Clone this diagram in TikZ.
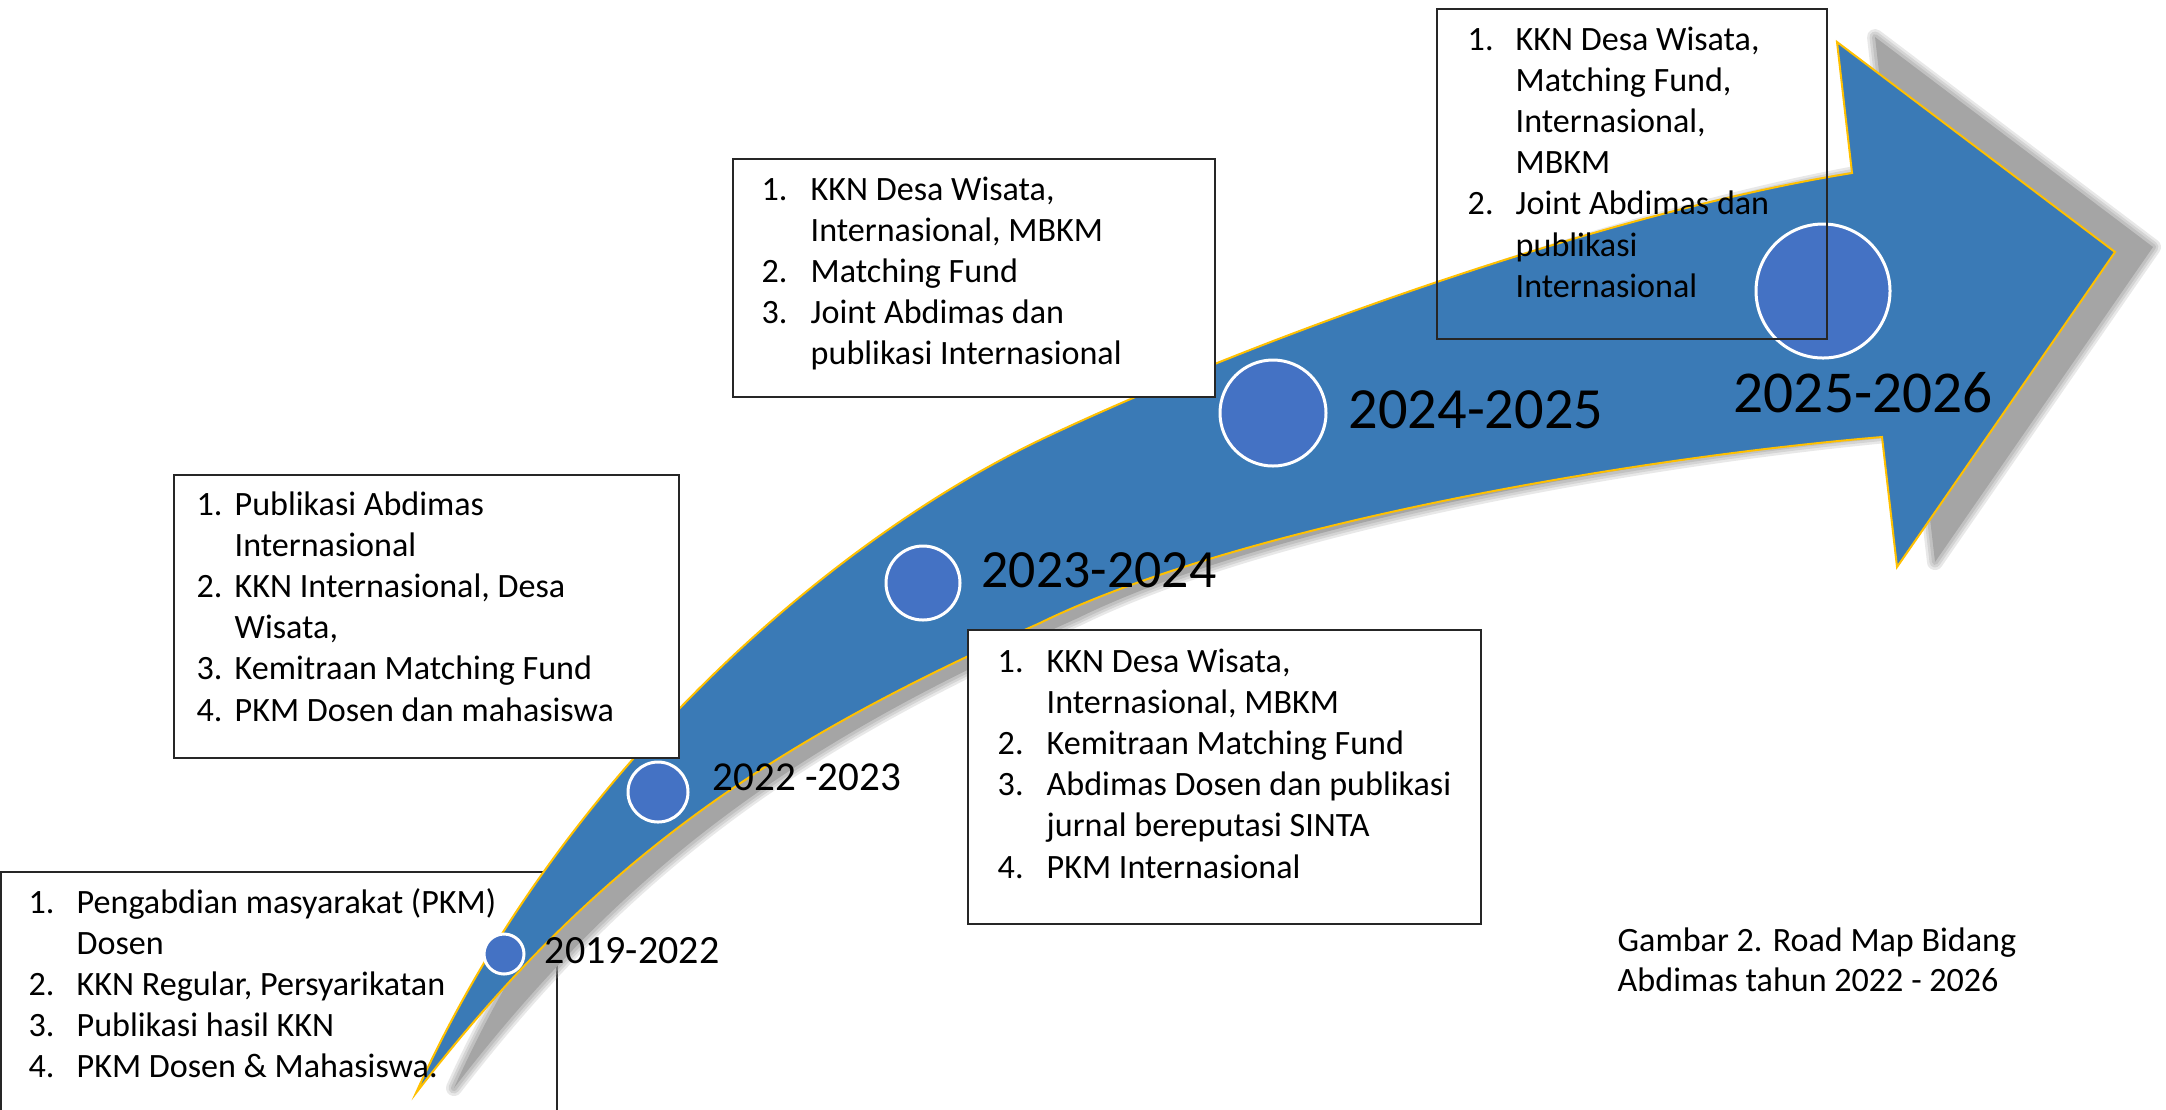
\documentclass[tikz,border=0pt]{standalone}
\usepackage{fontspec}
\setmainfont{Carlito}
\usepackage{tikz}

\definecolor{arrowblue}{RGB}{58,122,182}
\definecolor{dotblue}{RGB}{68,114,196}
\definecolor{edgegold}{RGB}{255,192,0}
\definecolor{shadowgray}{RGB}{165,165,165}

% list lines: number column + text, and a continued line
\newcommand{\itm}[3][4.9mm]{\makebox[#1][l]{#2}#3}
\newcommand{\cont}[2][4.9mm]{\hspace*{#1}#2}

% outline of the curved arrow (units are pixels of the layout)
\def\arrowpath{(416,1093) .. controls (557,780) and (822,545) .. (1040,440)
  .. controls (1250,340) and (1602,213) .. (1852,173)
  -- (1837,42) -- (2115,252) -- (1897,567) -- (1882,437)
  .. controls (1632,458) and (1240,525) .. (1040,623)
  .. controls (790,735) and (606,846) .. (416,1093) -- cycle}

\tikzset{
  listbox/.style={draw=black!85, line width=0.15mm},
  listtext/.style={font=\fontsize{9.7}{11.7}\selectfont, align=left, inner sep=0pt, anchor=north west},
  yearlbl/.style={inner sep=0pt, anchor=base west},
  dot/.style={circle, fill=dotblue, draw=white, line width=0.3mm, inner sep=0pt},
}

\begin{document}
\begin{tikzpicture}[x=0.1mm, y=-0.1mm]
\useasboundingbox (0,0) rectangle (2166,1109);

% box under the tail
\draw[listbox, fill=white] (1,872) rectangle (557,1125);

% shadow
\begin{scope}[shift={(38,-5)}]
  \foreach \lw/\op in {1.6mm/0.25, 1.1mm/0.3, 0.6mm/0.4}
    \draw[shadowgray, opacity=\op, line width=\lw, line join=round] \arrowpath;
  \fill[shadowgray] \arrowpath;
\end{scope}

% arrow
\filldraw[fill=arrowblue, draw=edgegold, line width=0.2mm, line join=miter] \arrowpath;

% milestones
\node[dot, minimum size=4mm]    (c19) at (504,954) {};
\node[dot, minimum size=6mm]    (c22) at (658,792) {};
\node[dot, minimum size=7.4mm]  (c23) at (923,583) {};
\node[dot, minimum size=10.6mm] (c24) at (1273,413) {};
\node[dot, minimum size=13.4mm] (c25) at (1823,291) {};

\node[yearlbl, font=\fontsize{11.4}{13}\selectfont] (y19) at (544,963) {2019-2022};
\node[yearlbl, font=\fontsize{11.7}{14}\selectfont] (y22) at (712,790) {2022 -2023};
\node[yearlbl, font=\fontsize{15.3}{18}\selectfont] (y23) at (981,587) {2023-2024};
\node[yearlbl, font=\fontsize{16.6}{20}\selectfont] (y24) at (1348,428) {2024-2025};
\node[yearlbl, font=\fontsize{16.9}{20}\selectfont] (y25) at (1733,412) {2025-2026};

% boxes
\draw[listbox, fill=white] (174,475) rectangle (679,758);
\draw[listbox, fill=white] (733,159) rectangle (1215,397);
\draw[listbox, fill=white] (968,630) rectangle (1481,924);
\draw[listbox] (1437,9) rectangle (1827,339);

\node[listtext] (t19) at (28,884) {\strut\itm[4.8mm]{1.}{Pengabdian masyarakat (PKM)}\\
  \cont[4.8mm]{Dosen}\\
  \itm[4.8mm]{2.}{KKN Regular, Persyarikatan}\\
  \itm[4.8mm]{3.}{Publikasi hasil KKN}\\
  \itm[4.8mm]{4.}{PKM Dosen \& Mahasiswa.}};

\node[listtext] (t22) at (196,486) {\strut\itm[3.8mm]{1.}{Publikasi Abdimas}\\
  \cont[3.8mm]{Internasional}\\
  \itm[3.8mm]{2.}{KKN Internasional, Desa}\\
  \cont[3.8mm]{Wisata,}\\
  \itm[3.8mm]{3.}{Kemitraan Matching Fund}\\
  \itm[3.8mm]{4.}{PKM Dosen dan mahasiswa}};

\node[listtext] (t23) at (761,171) {\strut\itm{1.}{KKN Desa Wisata,}\\
  \cont{Internasional, MBKM}\\
  \itm{2.}{Matching Fund}\\
  \itm{3.}{Joint Abdimas dan}\\
  \cont{publikasi Internasional}};

\node[listtext] (t24) at (997,643) {\strut\itm{1.}{KKN Desa Wisata,}\\
  \cont{Internasional, MBKM}\\
  \itm{2.}{Kemitraan Matching Fund}\\
  \itm{3.}{Abdimas Dosen dan publikasi}\\
  \cont{jurnal bereputasi SINTA}\\
  \itm{4.}{PKM Internasional}};

\node[listtext] (t25) at (1467,21) {\strut\itm[4.8mm]{1.}{KKN Desa Wisata,}\\
  \cont[4.8mm]{Matching Fund,}\\
  \cont[4.8mm]{Internasional,}\\
  \cont[4.8mm]{MBKM}\\
  \itm[4.8mm]{2.}{Joint Abdimas dan}\\
  \cont[4.8mm]{publikasi}\\
  \cont[4.8mm]{Internasional}};

% caption
\node[listtext, font=\fontsize{9.7}{11.3}\selectfont] (cap) at (1617,923) {\strut Gambar 2. Road Map Bidang\\
  Abdimas tahun 2022 - 2026};

\end{tikzpicture}
\end{document}
